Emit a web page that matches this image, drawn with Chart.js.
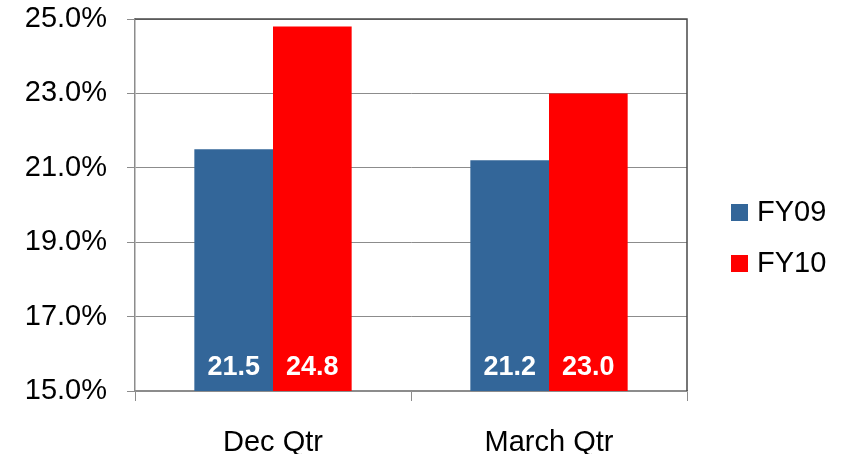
<!DOCTYPE html>
<html>
<head>
<meta charset="utf-8">
<script src="https://cdn.jsdelivr.net/npm/chart.js@4/dist/chart.umd.min.js"></script>
<style>
  html, body { margin: 0; padding: 0; background: #fff; }
  #wrap { width: 845px; height: 454px; }
</style>
</head>
<body>
<div id="wrap"><canvas id="qtrChart" width="845" height="454"></canvas></div>
<script>
// data
const categories = ['Dec Qtr', 'March Qtr'];
const seriesNames = ['FY09', 'FY10'];
const fy09 = [21.5, 21.2];
const fy10 = [24.8, 23.0];
const yTicks = [15, 17, 19, 21, 23, 25];

const FONT = "'Liberation Sans', Arial, sans-serif";
const GRID = '#8c8c8c';

// white value labels sitting at the foot of each bar
const barLabels = {
  id: 'barLabels',
  afterDraw(chart) {
    const ctx = chart.ctx;
    const foot = chart.chartArea.bottom;
    ctx.save();
    ctx.fillStyle = '#ffffff';
    ctx.font = 'bold 27px ' + FONT;
    ctx.textAlign = 'center';
    ctx.textBaseline = 'middle';
    chart.data.datasets.forEach((ds, i) => {
      chart.getDatasetMeta(i).data.forEach((bar, j) => {
        ctx.fillText(Number(ds.data[j]).toFixed(1), bar.x, foot - 23);
      });
    });
    ctx.restore();
  }
};

// dark top/right frame of the plot area
const plotFrame = {
  id: 'plotFrame',
  afterDraw(chart) {
    const a = chart.chartArea, ctx = chart.ctx;
    ctx.save();
    ctx.strokeStyle = '#4a4a4a';
    ctx.lineWidth = 1.5;
    ctx.beginPath();
    ctx.moveTo(a.left, a.top);
    ctx.lineTo(a.right, a.top);
    ctx.lineTo(a.right, a.bottom);
    ctx.stroke();
    ctx.restore();
  }
};

// legend on the right, built from the datasets
const sideLegend = {
  id: 'sideLegend',
  afterDraw(chart) {
    const a = chart.chartArea, ctx = chart.ctx;
    ctx.save();
    ctx.font = '29px ' + FONT;
    ctx.textBaseline = 'middle';
    chart.data.datasets.forEach((ds, i) => {
      const y = 212 + i * 51;
      ctx.fillStyle = ds.backgroundColor;
      ctx.fillRect(a.right + 44, y - 8, 17, 17);
      ctx.fillStyle = '#000';
      ctx.fillText(ds.label, a.right + 70, y + 1);
    });
    ctx.restore();
  }
};

new Chart(document.getElementById('qtrChart'), {
  type: 'bar',
  data: {
    labels: categories,
    datasets: [
      { label: seriesNames[0], data: fy09, backgroundColor: '#336699' },
      { label: seriesNames[1], data: fy10, backgroundColor: '#ff0000' }
    ]
  },
  options: {
    responsive: false,
    animation: false,
    layout: { padding: { top: 19, right: 158, left: 10, bottom: 0 } },
    datasets: { bar: { categoryPercentage: 0.57, barPercentage: 1.0 } },
    plugins: {
      legend: { display: false },
      tooltip: { enabled: false }
    },
    scales: {
      x: {
        grid: { drawOnChartArea: false, color: GRID, tickLength: 10, offset: true },
        border: { color: GRID, width: 1.5 },
        ticks: { color: '#000', font: { family: FONT, size: 29 }, padding: 25 },
        afterFit(scale) { scale.height = 454 - 391; }
      },
      y: {
        min: 15,
        max: 25,
        afterBuildTicks(scale) { scale.ticks = yTicks.map(v => ({ value: v })); },
        grid: { color: GRID, tickLength: 8 },
        border: { color: GRID, width: 1.5 },
        ticks: {
          color: '#000',
          font: { family: FONT, size: 29 },
          padding: 20,
          callback: v => v.toFixed(1) + '%'
        },
        afterFit(scale) {
          scale.width = 135 - 10;
          scale.paddingTop = 0;
          scale.paddingBottom = 0;
        }
      }
    }
  },
  plugins: [barLabels, plotFrame, sideLegend]
});
</script>
</body>
</html>
